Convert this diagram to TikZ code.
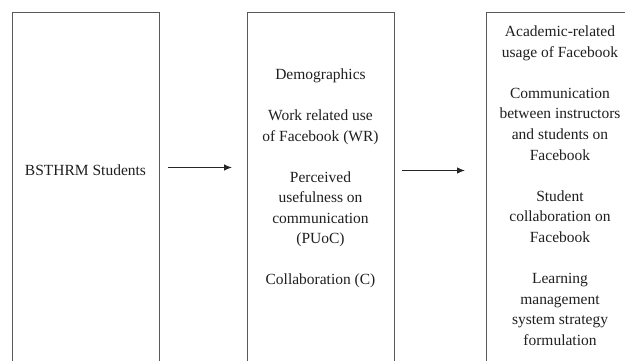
\documentclass[tikz,border=0pt]{standalone}
\usepackage{fontspec}
\setmainfont{Liberation Serif}
\usetikzlibrary{arrows.meta}
\begin{document}
\begin{tikzpicture}[x=1pt,y=1pt,
  box/.style={draw=black!65,line width=0.9pt,minimum width=147pt,minimum height=380pt,anchor=north west,inner sep=0pt},
  lbl/.style={text=black!88,font=\fontsize{15.5}{20.5}\selectfont,inner sep=0pt,anchor=base},
  arr/.style={-{Latex[length=8pt,width=6.5pt]},line width=1pt,black!85}]
\useasboundingbox (0,0) rectangle (625,360);
\clip (0,0) rectangle (625,360);
\node[box] (b1) at (12,348) {};
\node[box] (b2) at (247,348) {};
\node[box,minimum width=148pt] (b3) at (486,348) {};
\node[lbl] (t1) at (85.5,{360-175.5}) {BSTHRM Students};
\foreach \k/\t in {0/Demographics,2/Work related use,3/of Facebook (WR),5/Perceived,6/usefulness on,7/communication,8/(PUoC),10/Collaboration (C)}
  \node[lbl] (m\k) at (320.5,{360-79.5-20.5*\k}) {\t};
\foreach \k/\t in {0/Academic-related,1/usage of Facebook,3/Communication,4/between instructors,5/and students on,6/Facebook,8/Student,9/collaboration on,10/Facebook,12/Learning,13/management,14/system strategy,15/formulation}
  \node[lbl] (o\k) at (560,{360-36.5-20.6*\k}) {\t};
\coordinate (y1) at (0,{360-167.5});
\coordinate (y2) at (0,{360-170.5});
\draw[arr] ([xshift=8pt]b1.east |- y1) -- ([xshift=-15pt]b2.west |- y1);
\draw[arr] ([xshift=7pt]b2.east |- y2) -- ([xshift=-21pt]b3.west |- y2);
\end{tikzpicture}
\end{document}
